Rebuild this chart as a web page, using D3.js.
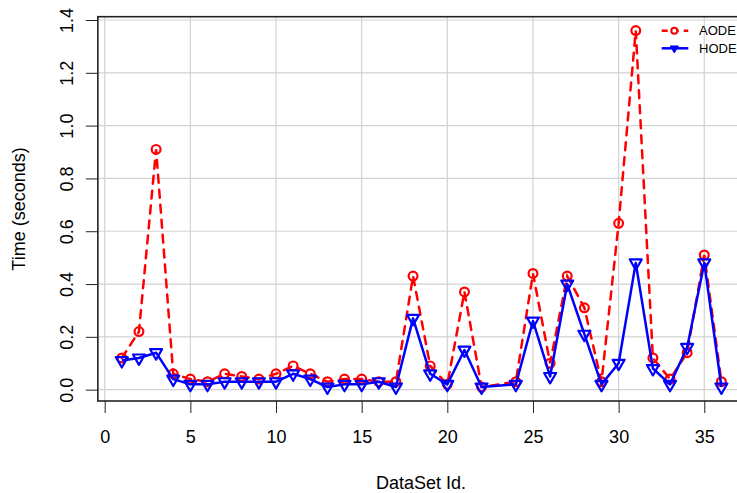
<!DOCTYPE html>
<html lang="en">
<head>
    <meta charset="UTF-8">
    <script src="https://d3js.org/d3.v7.min.js"></script>
    <title>AODE vs HODE time</title>
    <style>
        body { margin: 0; background: #fff; }
        text { font-family: "Liberation Sans", Arial, Helvetica, sans-serif; fill: #000; }
    </style>
</head>
<body>
    <script>
        // dataset ids (23 is missing in the original run)
        var ids = [1,2,3,4,5,6,7,8,9,10,11,12,13,14,15,16,17,18,19,20,21,22,
                   24,25,26,27,28,29,30,31,32,33,34,35,36];
        var aode = [0.12,0.22,0.91,0.06,0.04,0.03,0.06,0.05,0.04,0.06,0.09,0.06,0.03,0.04,0.04,0.03,0.03,0.43,0.09,0.02,0.37,0.01,
                    0.03,0.44,0.10,0.43,0.31,0.03,0.63,1.36,0.12,0.04,0.14,0.51,0.03];
        var hode = [0.11,0.12,0.14,0.04,0.02,0.02,0.03,0.03,0.03,0.03,0.06,0.04,0.01,0.02,0.02,0.03,0.01,0.27,0.06,0.02,0.15,0.01,
                    0.02,0.26,0.05,0.40,0.21,0.02,0.10,0.48,0.08,0.02,0.16,0.48,0.01];
        var seriesNames = ['AODE', 'HODE'];
        var xTicks = [0,5,10,15,20,25,30,35];
        var yTicks = [0.0,0.2,0.4,0.6,0.8,1.0,1.2,1.4];

        var width = 737;
        var height = 493;

        // R style usr range: data range padded by 4%
        var x = d3.scaleLinear().domain([-0.4, 37.4]).range([97.85, 745.4]);
        var y = d3.scaleLinear().domain([-0.043, 1.4125]).range([401, 16.7]);

        var svg = d3.select('body')
                    .append('svg')
                    .attr('width', width)
                    .attr('height', height);

        svg.append('rect')
            .attr('width', width)
            .attr('height', height)
            .attr('fill', '#fff');

        // grid
        var grid = svg.append('g').attr('stroke', '#d3d3d3').attr('stroke-width', 1.2);
        grid.selectAll('.gx').data(xTicks).enter()
            .append('line')
            .attr('x1', function(d){ return x(d); })
            .attr('x2', function(d){ return x(d); })
            .attr('y1', y.range()[0])
            .attr('y2', y.range()[1]);
        grid.selectAll('.gy').data(yTicks).enter()
            .append('line')
            .attr('x1', x.range()[0])
            .attr('x2', x.range()[1])
            .attr('y1', function(d){ return y(d); })
            .attr('y2', function(d){ return y(d); });

        // axes
        var xAxis = d3.axisBottom(x).tickValues(xTicks).tickSize(12).tickPadding(17)
                      .tickFormat(d3.format('d'));
        var yAxis = d3.axisLeft(y).tickValues(yTicks).tickSize(12).tickFormat(d3.format('.1f'));

        var gx = svg.append('g')
            .attr('transform', 'translate(0,' + y.range()[0] + ')')
            .call(xAxis);
        gx.select('.domain').remove();
        gx.selectAll('text').attr('font-size', '18px').attr('dy', null)
            .attr('y', 42).attr('font-family', '"Liberation Sans", Arial, sans-serif');
        gx.selectAll('line').attr('stroke', '#222');

        var gy = svg.append('g')
            .attr('transform', 'translate(' + x.range()[0] + ',0)')
            .call(yAxis);
        gy.select('.domain').remove();
        gy.selectAll('line').attr('stroke', '#222');
        gy.selectAll('text')
            .attr('x', null).attr('dy', null)
            .attr('font-size', '18px')
            .attr('font-family', '"Liberation Sans", Arial, sans-serif')
            .attr('text-anchor', 'middle')
            .attr('transform', 'translate(-25,0) rotate(-90)');

        // box
        svg.append('rect')
            .attr('x', x.range()[0])
            .attr('y', y.range()[1])
            .attr('width', x.range()[1] - x.range()[0])
            .attr('height', y.range()[0] - y.range()[1])
            .attr('fill', 'none')
            .attr('stroke', '#222')
            .attr('stroke-width', 1.6);

        // axis titles
        svg.append('text')
            .attr('x', 421)
            .attr('y', 489)
            .attr('text-anchor', 'middle')
            .attr('font-size', '18px')
            .text('DataSet Id.');
        svg.append('text')
            .attr('transform', 'translate(25,209) rotate(-90)')
            .attr('text-anchor', 'middle')
            .attr('font-size', '18px')
            .text('Time (seconds)');

        // R pch 6 style down triangle
        function downTri(cx, cy, s) {
            var r = 1.555 * s, xc = 1.347 * s, yc = 0.778 * s;
            return 'M' + cx + ',' + (cy + r) + 'L' + (cx + xc) + ',' + (cy - yc) + 'L' + (cx - xc) + ',' + (cy - yc) + 'Z';
        }

        var line = d3.line()
                     .x(function(d){ return x(d[0]); })
                     .y(function(d){ return y(d[1]); });

        var aodePts = ids.map(function(d, i){ return [d, aode[i]]; });
        var hodePts = ids.map(function(d, i){ return [d, hode[i]]; });

        svg.append('path')
            .attr('d', line(aodePts))
            .attr('fill', 'none')
            .attr('stroke', '#ff0000')
            .attr('stroke-width', 2.5)
            .attr('stroke-dasharray', '8,7')
            .attr('stroke-linecap', 'round');
        svg.selectAll('.pa').data(aodePts).enter()
            .append('circle')
            .attr('cx', function(d){ return x(d[0]); })
            .attr('cy', function(d){ return y(d[1]); })
            .attr('r', 4.4)
            .attr('fill', 'none')
            .attr('stroke', '#ff0000')
            .attr('stroke-width', 2.2);

        svg.append('path')
            .attr('d', line(hodePts))
            .attr('fill', 'none')
            .attr('stroke', '#0000ff')
            .attr('stroke-width', 2.5)
            .attr('stroke-linejoin', 'round');
        svg.selectAll('.ph').data(hodePts).enter()
            .append('path')
            .attr('d', function(d){ return downTri(x(d[0]), y(d[1]), 4.45); })
            .attr('fill', 'none')
            .attr('stroke', '#0000ff')
            .attr('stroke-width', 2.2)
            .attr('stroke-linejoin', 'round');

        // legend
        var legend = svg.append('g').attr('transform', 'translate(661.7,30.7)');
        var items = legend.selectAll('g').data(seriesNames).enter()
            .append('g')
            .attr('transform', function(d, i){ return 'translate(0,' + (i * 17.6) + ')'; });
        items.append('line')
            .attr('x1', 0).attr('x2', 26.6)
            .attr('stroke', function(d, i){ return i == 0 ? '#ff0000' : '#0000ff'; })
            .attr('stroke-width', 2.5)
            .attr('stroke-dasharray', function(d, i){ return i == 0 ? '6,5' : null; });
        items.each(function(d, i){
            var g = d3.select(this);
            if (i == 0) {
                g.append('circle').attr('cx', 12.6).attr('cy', 0).attr('r', 3)
                    .attr('fill', '#fff').attr('stroke', '#ff0000').attr('stroke-width', 2);
            } else {
                g.append('path').attr('d', downTri(12.6, 0, 3))
                    .attr('fill', '#0000ff').attr('stroke', '#0000ff').attr('stroke-width', 1);
            }
        });
        items.append('text')
            .attr('x', 37.3)
            .attr('y', 4.7)
            .attr('font-size', '13px')
            .text(function(d){ return d; });
    </script>
</body>
</html>
